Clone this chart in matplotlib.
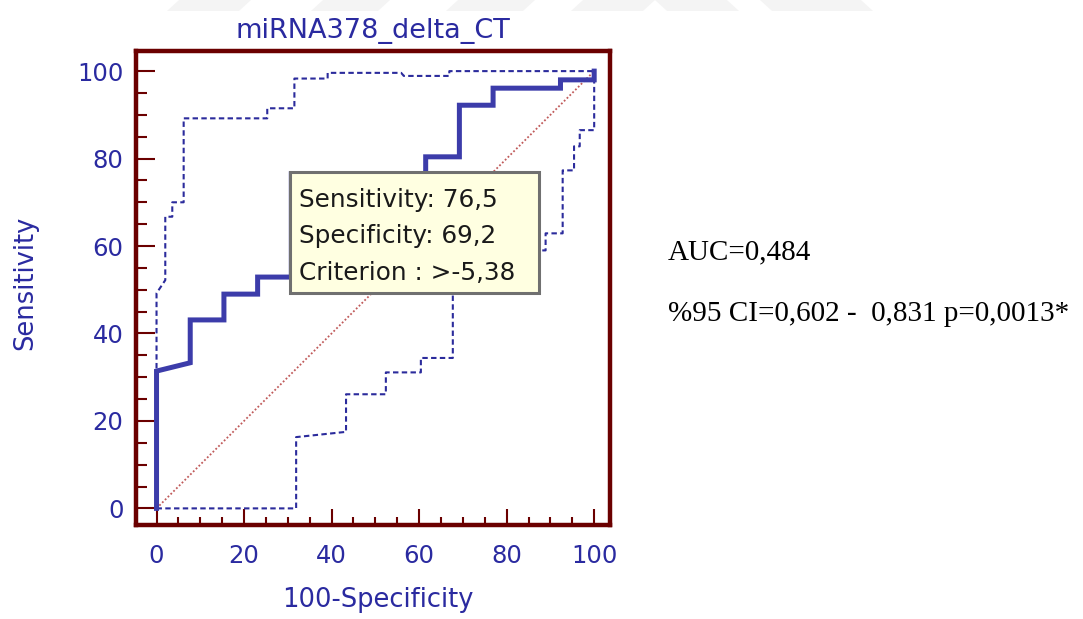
import matplotlib
matplotlib.use("Agg")
import matplotlib.pyplot as plt
from matplotlib.patches import Rectangle, Polygon
from matplotlib.ticker import MultipleLocator

# === datos de la curva ROC ===
roc_fpr  = [0, 0, 7.7, 7.7, 15.4, 15.4, 23.1, 23.1, 30.8, 30.8, 61.5, 61.5, 69.2, 69.2, 76.9, 76.9, 92.3, 92.3, 100, 100]
roc_sens = [0, 31.4, 33.3, 43.1, 43.1, 49.0, 49.0, 52.9, 52.9, 76.5, 76.5, 80.4, 80.4, 92.2, 92.2, 96.1, 96.1, 98.0, 98.0, 100]

# banda de confianza superior
up_fpr  = [0, 0, 2.0, 2.0, 3.6, 3.6, 6.2, 6.2, 25.3, 25.3, 31.5, 31.5, 39.1, 39.1, 55.9, 56.5, 66.9, 66.9, 100]
up_sens = [0, 49.2, 52.2, 66.7, 66.7, 70.0, 70.0, 89.2, 89.2, 91.5, 91.5, 98.3, 98.3, 99.6, 99.6, 98.9, 98.9, 100, 100]

# banda de confianza inferior
lo_fpr  = [0, 31.9, 31.9, 43.3, 43.3, 52.4, 52.4, 60.4, 60.4, 67.7, 67.7, 88.9, 88.9, 92.8, 92.8, 95.4, 95.4, 96.7, 96.7, 100, 100]
lo_sens = [0, 0, 16.3, 17.5, 26.1, 26.1, 31.1, 31.1, 34.4, 34.4, 59.0, 59.0, 62.9, 62.9, 77.3, 77.3, 82.8, 82.8, 86.5, 86.5, 100]

ticks = [0, 20, 40, 60, 80, 100]
tip_lines = ["Sensitivity: 76,5", "Specificity: 69,2", "Criterion : >-5,38"]
title = "miRNA378_delta_CT"
xlabel, ylabel = "100-Specificity", "Sensitivity"
stats = ["AUC=0,484", "%95 CI=0,602 -  0,831 p=0,0013*"]

W, H = 1083, 619
navy, frame, band = "#2a2aa0", "#6b0000", "#2b2b9c"

fig = plt.figure(figsize=(W / 100, H / 100), dpi=100)
ax = fig.add_axes([136 / W, 1 - 525 / H, 473.5 / W, 474 / H])

# marca de agua tenue arriba
for x0, x1, s in [(179, 251, -12), (323, 390, -12), (458, 535, -12), (583, 655, -12), (655, 727, 12), (760, 861, 12)]:
    fig.add_artist(Polygon([(x0 / W, 1), (x1 / W, 1), ((x1 + s) / W, 1 - 11 / H), ((x0 + s) / W, 1 - 11 / H)],
                           closed=True, transform=fig.transFigure, facecolor="#f4f4f4", edgecolor="none"))

ax.plot([0, 100], [0, 100], color="#c05a5a", lw=1.3, ls=(0, (1, 1.2)), zorder=2)
ax.plot(up_fpr, up_sens, color=band, lw=1.5, ls=(0, (2.6, 1.6)), zorder=3)
ax.plot(lo_fpr, lo_sens, color=band, lw=1.5, ls=(0, (2.6, 1.6)), zorder=3)
ax.plot(roc_fpr, roc_sens, color="#3c3caa", lw=3.6, solid_joinstyle="miter", zorder=4)

# cuadro del punto de corte
ax.add_patch(Rectangle((30.4, 49.2), 57.0, 27.7, facecolor="#ffffe1", edgecolor="#707070", lw=2.2, zorder=6))
for t, yy in zip(tip_lines, [68.9, 60.6, 52.2]):
    ax.text(32.6, yy, t, fontsize=17.8, color="#1a1a1a", va="baseline", ha="left", zorder=7)

ax.set_xlim(-4.69, 103.5); ax.set_ylim(-3.8, 104.6)
ax.set_xticks(ticks); ax.set_yticks(ticks)
ax.xaxis.set_minor_locator(MultipleLocator(5)); ax.yaxis.set_minor_locator(MultipleLocator(5))
ax.tick_params(axis="x", which="major", direction="in", length=11.3, width=1.5, color=frame, labelsize=17.5, labelcolor=navy, pad=14)
ax.tick_params(axis="x", which="minor", direction="in", length=5.5, width=1.5, color=frame)
ax.tick_params(axis="y", which="major", direction="in", length=13.5, width=1.5, color=frame, labelsize=17.5, labelcolor=navy, pad=9)
ax.tick_params(axis="y", which="minor", direction="in", length=8, width=1.5, color=frame)
for sp in ax.spines.values():
    sp.set_color(frame); sp.set_linewidth(3.2)

fig.text(373 / W, 1 - 38 / H, title, fontsize=19.5, color=navy, ha="center", va="baseline")
fig.text(378 / W, 1 - 607 / H, xlabel, fontsize=18.5, color=navy, ha="center", va="baseline")
fig.text(25 / W, 1 - 283 / H, ylabel, fontsize=18.5, color=navy, ha="center", va="center", rotation=90)
for s, yb in zip(stats, [259, 321]):
    fig.text(668 / W, 1 - yb / H, s, fontsize=21, family="Liberation Serif", color="black", ha="left", va="baseline")

fig.savefig("out.png", dpi=100)
